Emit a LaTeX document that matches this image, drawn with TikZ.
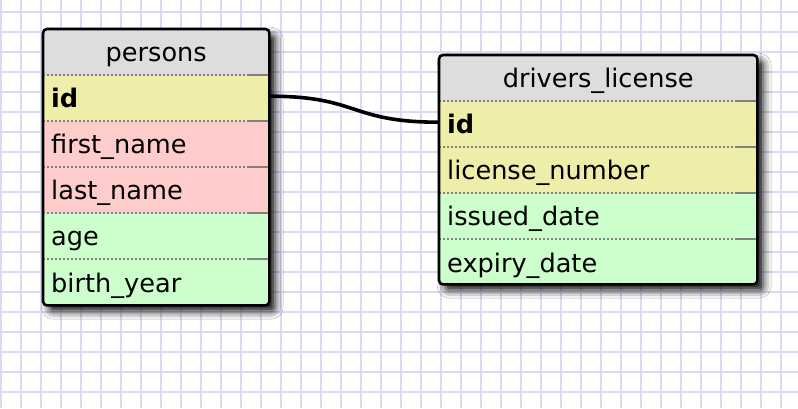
\documentclass[tikz,border=0pt]{standalone}
\usepackage{fontspec}
\setmainfont{DejaVu Sans}
\usetikzlibrary{shadows.blur}
\definecolor{gridc}{RGB}{218,218,245}
\definecolor{headc}{RGB}{221,221,221}
\definecolor{yellowc}{RGB}{238,238,170}
\definecolor{pinkc}{RGB}{255,204,204}
\definecolor{greenc}{RGB}{204,255,204}
\definecolor{sepc}{RGB}{128,128,128}
\tikzset{
  tableframe/.style={rectangle, rounded corners=4pt, fill=white, inner sep=0pt,
    blur shadow={shadow xshift=6pt, shadow yshift=-6pt, shadow blur radius=8pt, shadow opacity=95}},
  tableborder/.style={draw=black, line width=2.6pt, rounded corners=4pt},
  rowbox/.style={rectangle, inner ysep=0pt, inner xsep=8pt, minimum height=46pt,
    text height=23pt, text depth=5pt, align=left, anchor=north west,
    font=\fontsize{25.6}{30}\selectfont},
  headbox/.style={rowbox, align=center, fill=headc},
  sepdot/.style={draw=sepc, line width=1.8pt, dash pattern=on 1.6pt off 2.4pt},
  sepsolid/.style={draw=sepc, line width=1.8pt},
  conn/.style={draw=black, line width=3.6pt},
}
\begin{document}
\begin{tikzpicture}[x=1pt, y=-1pt]
\useasboundingbox (0,0) rectangle (798,408);
\fill[white] (0,0) rectangle (798,408);
% grid
\foreach \gx in {1,21,...,797} \draw[gridc, line width=2.2pt] (\gx,0) -- (\gx,408);
\foreach \gy in {12,32,...,408} \draw[gridc, line width=2.2pt] (0,\gy) -- (798,\gy);

% ---------- persons ----------
\node[tableframe, minimum width=226pt, minimum height=276pt, anchor=north west] (persons) at (43,29) {};
\begin{scope}
\clip[rounded corners=4pt] (persons.north west) rectangle (persons.south east);
\node[headbox, text width=210pt] (p-head) at (43,29) {persons};
\node[rowbox, fill=yellowc, text width=210pt] (p-id) at (43,75) {\textbf{id}};
\node[rowbox, fill=pinkc, text width=210pt] (p-first) at (43,121) {first\_name};
\node[rowbox, fill=pinkc, text width=210pt] (p-last) at (43,167) {last\_name};
\node[rowbox, fill=greenc, text width=210pt] (p-age) at (43,213) {age};
\node[rowbox, fill=greenc, text width=210pt, minimum height=48pt] (p-birth) at (43,259) {birth\_year};
\end{scope}
\foreach \r in {p-id,p-first,p-last,p-age,p-birth}{
  \draw[sepdot] (\r.north west) -- (\r.north east);
  \draw[sepsolid] ([xshift=-21pt]\r.north east) -- (\r.north east);
}
\draw[tableborder] (persons.north west) rectangle (persons.south east);

% ---------- drivers_license ----------
\node[tableframe, minimum width=318pt, minimum height=229pt, anchor=north west] (drivers) at (439,55) {};
\begin{scope}
\clip[rounded corners=4pt] (drivers.north west) rectangle (drivers.south east);
\node[headbox, text width=302pt] (d-head) at (439,55) {drivers\_license};
\node[rowbox, fill=yellowc, text width=302pt] (d-id) at (439,101) {\textbf{id}};
\node[rowbox, fill=yellowc, text width=302pt] (d-num) at (439,147) {license\_number};
\node[rowbox, fill=greenc, text width=302pt] (d-issued) at (439,193) {issued\_date};
\node[rowbox, fill=greenc, text width=302pt, minimum height=48pt] (d-expiry) at (439,239) {expiry\_date};
\end{scope}
\foreach \r in {d-id,d-num,d-issued,d-expiry}{
  \draw[sepdot] (\r.north west) -- (\r.north east);
  \draw[sepsolid] ([xshift=-21pt]\r.north east) -- (\r.north east);
}
\draw[tableborder] (drivers.north west) rectangle (drivers.south east);

% ---------- connector ----------
\draw[conn] ([yshift=2pt]p-id.east) .. controls +(90,0) and +(-90,0) .. ([yshift=2pt]d-id.west);
\end{tikzpicture}
\end{document}
